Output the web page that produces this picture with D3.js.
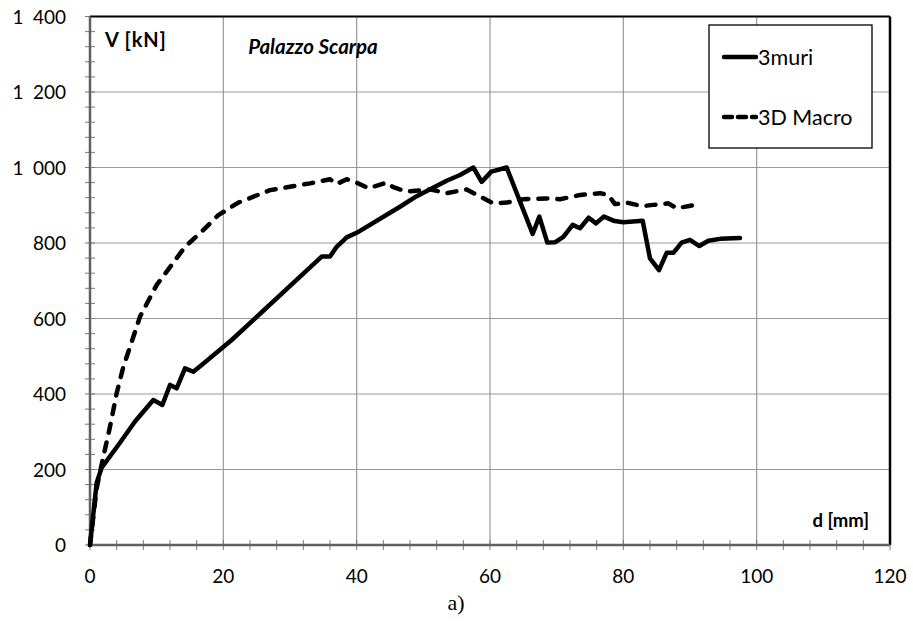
<!DOCTYPE html>
<html><head><meta charset="utf-8">
<script src="https://cdn.jsdelivr.net/npm/d3@7"></script>
<style>
body{margin:0;background:#fff;}
svg text{font-family:Lato,"Open Sans",sans-serif;}
</style></head>
<body><svg id="c" width="913" height="625"></svg>
<script>
// ---- data ----
const muriD = [0, 1.0, 1.75, 4.25, 6.75, 9.5, 10.85, 12, 13, 14.25, 15.5, 16.75, 21.25, 34.75, 36, 37, 38.5, 40, 46.5, 49, 53.5, 55.5, 57.5, 58.75, 60.2, 62.5, 66.4, 67.4, 68.6, 69.8, 71, 72.4, 73.5, 74.8, 75.9, 77.1, 78.7, 80, 82.9, 84, 85.35, 86.5, 87.5, 88.75, 90, 91.4, 92.75, 94.5, 97.5];
const muriV = [0, 165, 205, 265, 327, 384, 371, 424, 415, 468, 459, 477, 543, 764, 764, 790, 815, 827, 896, 924, 965, 980, 1000, 962, 989, 1000, 824, 870, 801, 802, 816, 848, 839, 867, 852, 870, 858, 855, 859, 759, 728, 774, 774, 801, 808, 792, 806, 811, 813];
const macroD = [0, 1, 2, 3, 4, 5, 6.25, 7.5, 10, 12.25, 14.25, 16.75, 19.25, 22.25, 27, 33, 36, 37, 38.5, 40, 41.75, 44.5, 45.5, 47.5, 51, 53.5, 56.5, 58.5, 60.5, 62.5, 65, 68.5, 70.5, 73.5, 76.5, 77.75, 78.75, 80.5, 82, 83, 84.5, 86.75, 88, 90.75];
const macroV = [0, 150, 234, 313, 402, 472, 538, 605, 689, 742, 790, 830, 874, 907, 940, 958, 969, 956, 969, 960, 945, 960, 948, 936, 942, 932, 942, 923, 905, 907, 916, 918, 916, 927, 932, 927, 903, 907, 901, 898, 901, 905, 892, 901];
const xTicks = [0, 20, 40, 60, 80, 100, 120];
const yTicks = [0, 200, 400, 600, 800, 1000, 1200, 1400];
const yTickLabels = ["0", "200", "400", "600", "800", "1\u2002000", "1\u2002200", "1\u2002400"];
const seriesNames = ["3muri", "3D Macro"];
const titleText = "Palazzo Scarpa";
const yTitle = "V [kN]";
const xTitle = "d [mm]";
const caption = "a)";

// ---- layout ----
const L = 90, R = 890, T = 16.5, B = 545;
const x = d3.scaleLinear().domain([0, 120]).range([L, R]);
const y = d3.scaleLinear().domain([0, 1400]).range([B, T]);
const svg = d3.select("#c");

// gridlines
const grid = svg.append("g");
grid.selectAll("line.gx").data(xTicks.slice(1, -1)).enter().append("line")
  .attr("x1", d => x(d)).attr("x2", d => x(d)).attr("y1", T).attr("y2", B)
  .attr("stroke", "#9a9a9a").attr("stroke-width", 1.2);
grid.selectAll("line.gy").data(yTicks.slice(1, -1)).enter().append("line")
  .attr("y1", d => y(d)).attr("y2", d => y(d)).attr("x1", L).attr("x2", R)
  .attr("stroke", "#9a9a9a").attr("stroke-width", 1.2);

// minor ticks
const xMinor = d3.range(0, 120.001, 4);
const yMinor = d3.range(0, 1400.001, 40);
svg.append("g").selectAll("line").data(xMinor).enter().append("line")
  .attr("x1", d => x(d)).attr("x2", d => x(d)).attr("y1", B - 5).attr("y2", B + 5)
  .attr("stroke", "#7a7a7a").attr("stroke-width", 1);
svg.append("g").selectAll("line").data(yMinor).enter().append("line")
  .attr("y1", d => y(d)).attr("y2", d => y(d)).attr("x1", L - 5).attr("x2", L + 5)
  .attr("stroke", "#7a7a7a").attr("stroke-width", 1);

// borders
svg.append("line").attr("x1", L).attr("x2", R).attr("y1", T).attr("y2", T).attr("stroke", "#000").attr("stroke-width", 2);
svg.append("line").attr("x1", R).attr("x2", R).attr("y1", T).attr("y2", B).attr("stroke", "#000").attr("stroke-width", 2.5);
svg.append("line").attr("x1", L).attr("x2", R).attr("y1", B).attr("y2", B).attr("stroke", "#606060").attr("stroke-width", 2.5);
svg.append("line").attr("x1", L).attr("x2", L).attr("y1", T).attr("y2", B).attr("stroke", "#606060").attr("stroke-width", 2.5);

// tick labels
svg.append("g").selectAll("text").data(xTicks).enter().append("text")
  .attr("x", d => x(d)).attr("y", B + 38).attr("text-anchor", "middle")
  .attr("font-size", 19).attr("fill", "#000").text(d => d);
svg.append("g").selectAll("text").data(yTicks).enter().append("text")
  .attr("x", 66).attr("y", d => y(d) + 7).attr("text-anchor", "end")
  .attr("font-size", 19).attr("fill", "#000").text((d, i) => yTickLabels[i]);

// series
const line = d3.line().x(d => x(d[0])).y(d => y(d[1]));
svg.append("path").datum(macroD.map((d, i) => [d, macroV[i]])).attr("d", line)
  .attr("fill", "none").attr("stroke", "#000").attr("stroke-width", 4.5)
  .attr("stroke-dasharray", "9,10").attr("stroke-linecap", "round").attr("stroke-linejoin", "round");
svg.append("path").datum(muriD.map((d, i) => [d, muriV[i]])).attr("d", line)
  .attr("fill", "none").attr("stroke", "#000").attr("stroke-width", 4.5)
  .attr("stroke-linejoin", "round").attr("stroke-linecap", "round");

// titles
svg.append("text").attr("x", 105).attr("y", 47).attr("font-size", 20).attr("font-weight", "bold").attr("letter-spacing", 0.8).text(yTitle);
svg.append("text").attr("x", 869).attr("y", 527).attr("text-anchor", "end").attr("font-size", 18.5).attr("font-weight", "bold").text(xTitle);
svg.append("text").attr("x", 313).attr("y", 54).attr("text-anchor", "middle").attr("font-size", 20.5).attr("font-weight", "bold").attr("font-style", "italic").text(titleText);
svg.append("text").attr("x", 456).attr("y", 610).attr("text-anchor", "middle").attr("font-size", 22)
  .style("font-family", "'Liberation Serif', 'DejaVu Serif', serif").text(caption);

// legend
const lg = svg.append("g");
lg.append("rect").attr("x", 709).attr("y", 25).attr("width", 163).attr("height", 123)
  .attr("fill", "#fff").attr("stroke", "#000").attr("stroke-width", 1.3);
const ly = [57, 117];
seriesNames.forEach((n, i) => {
  lg.append("line").attr("x1", 724).attr("x2", 756).attr("y1", ly[i]).attr("y2", ly[i])
    .attr("stroke", "#000").attr("stroke-width", 4.5).attr("stroke-linecap", "round")
    .attr("stroke-dasharray", i === 1 ? "8,6" : null);
  lg.append("text").attr("x", 758).attr("y", ly[i] + 8).attr("font-size", 21.5).text(n);
});
</script>
</body></html>
